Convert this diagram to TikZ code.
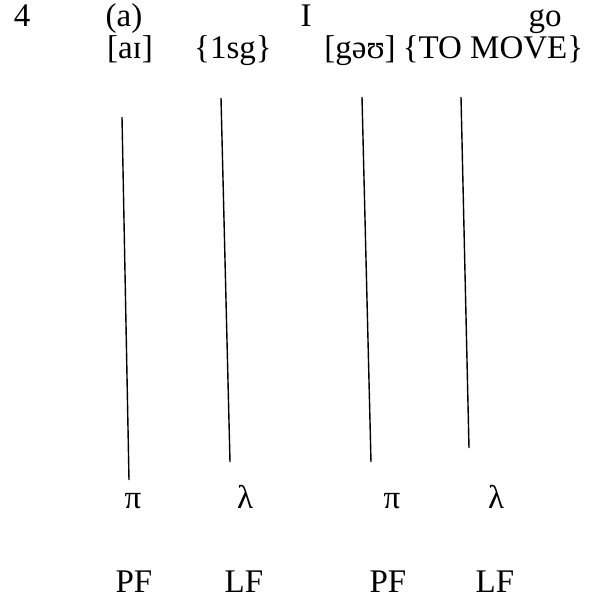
\documentclass[tikz,border=0pt]{standalone}
\usepackage{fontspec}
\setmainfont{Liberation Serif}
\begin{document}
\begin{tikzpicture}[x=1pt,y=-1pt,
  lbl/.style={inner sep=0pt,anchor=base,font=\fontsize{33}{35}\selectfont},
  link/.style={line width=1.4pt}]
\useasboundingbox (0,0) rectangle (598,598);
% top rows
\node[lbl] (num) at (22,26) {4};
\node[lbl] (ex) at (124,26) {(a)};
\node[lbl] (wI) at (306,26) {I};
\node[lbl] (wgo) at (545,26) {go};
\node[lbl] (p1) at (130,58) {[aɪ]};
\node[lbl] (s1) at (233,58) {\{1sg\}};
\node[lbl] (p2) at (360,58) {[gəʊ]};
\node[lbl] (s2) at (493,58) {\{TO MOVE\}};
% greek
\node[lbl] (pi1) at (133,508) {π};
\node[lbl] (la1) at (245,508) {λ};
\node[lbl] (pi2) at (392,508) {π};
\node[lbl] (la2) at (496,508) {λ};
% interfaces
\node[lbl] (pf1) at (134,592) {PF};
\node[lbl] (lf1) at (244,592) {LF};
\node[lbl] (pf2) at (388,592) {PF};
\node[lbl] (lf2) at (495,592) {LF};
% lines
\coordinate (t1) at (122,117); \coordinate (b1) at (129,480);
\coordinate (t2) at (221,98);  \coordinate (b2) at (230,462);
\coordinate (t3) at (362,97);  \coordinate (b3) at (371,462);
\coordinate (t4) at (461,97);  \coordinate (b4) at (469,448);
\draw[link] (t1) -- (b1);
\draw[link] (t2) -- (b2);
\draw[link] (t3) -- (b3);
\draw[link] (t4) -- (b4);
\end{tikzpicture}
\end{document}
